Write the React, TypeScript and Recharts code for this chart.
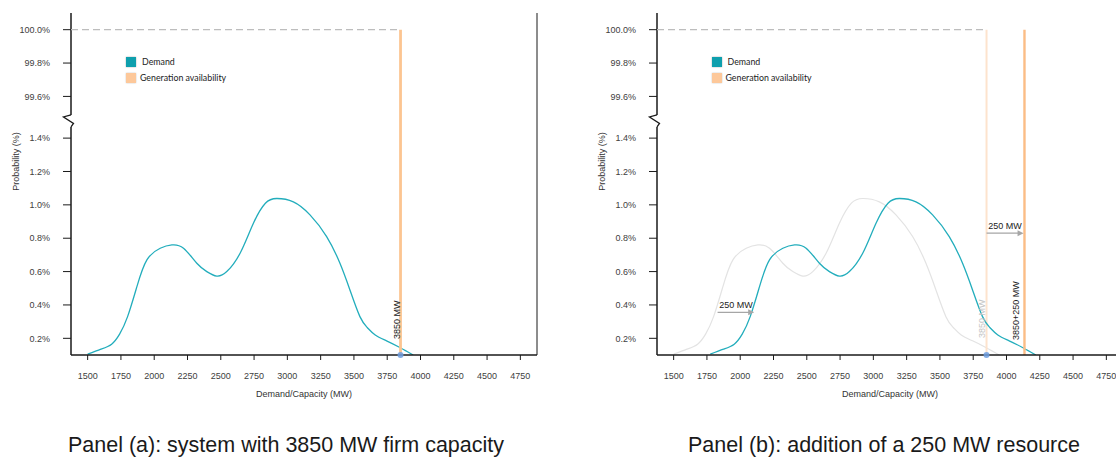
import React from 'react';
import { LineChart, Line, XAxis, YAxis, ReferenceLine, ReferenceDot, Legend } from 'recharts';

// ---------- data ----------
const xTicks = [1500, 1750, 2000, 2250, 2500, 2750, 3000, 3250, 3500, 3750, 4000, 4250, 4500, 4750];
const yTickPercents = [0.2, 0.4, 0.6, 0.8, 1.0, 1.2, 1.4, 99.6, 99.8, 100.0];
const yTickLabels = ['0.2%', '0.4%', '0.6%', '0.8%', '1.0%', '1.2%', '1.4%', '99.6%', '99.8%', '100.0%'];

// Panel (a) demand distribution
const demandMW = [1500, 1600, 1680, 1740, 1800, 1870, 1945, 2045, 2133, 2220, 2320, 2395, 2470, 2545, 2645, 2745, 2835, 2920, 3045, 3170, 3295, 3395, 3470, 3545, 3600, 3660, 3745, 3845, 3945];
const demandProb = [0.105, 0.135, 0.165, 0.225, 0.33, 0.51, 0.67, 0.74, 0.76, 0.74, 0.65, 0.6, 0.573, 0.6, 0.71, 0.89, 1.01, 1.038, 1.018, 0.94, 0.81, 0.65, 0.49, 0.33, 0.265, 0.22, 0.185, 0.145, 0.1];

// Panel (b) demand distribution after the resource addition
const shiftedMW = [1775, 1875, 1955, 2015, 2075, 2145, 2220, 2320, 2408, 2495, 2595, 2670, 2745, 2820, 2920, 3020, 3110, 3195, 3320, 3445, 3570, 3670, 3745, 3820, 3875, 3935, 4020, 4120, 4220];
const shiftedProb = [0.105, 0.135, 0.165, 0.225, 0.33, 0.51, 0.67, 0.74, 0.76, 0.74, 0.65, 0.6, 0.573, 0.6, 0.71, 0.89, 1.01, 1.038, 1.018, 0.94, 0.81, 0.65, 0.49, 0.33, 0.265, 0.22, 0.185, 0.145, 0.1];

const firmCapacityMW = 3850;
const expandedCapacityMW = 4135;
const fullAvailability = 100.0;
const upperArrow = { from: 3850, to: 4128, prob: 0.83 };
const lowerArrow = { from: 1830, to: 2105, prob: 0.356 };
const resourceLabel = '250 MW';
const captions = ['Panel (a): system with 3850 MW firm capacity', 'Panel (b): addition of a 250 MW resource'];

// ---------- scales ----------
const xDomain = [1375, 4875];
const yDomain = [0.1, 2.15];
const toAxis = (p: number) => (p > 50 ? p - 97.95 : p);
const yTicksAxis = yTickPercents.map(toAxis);
const breakHigh = 1.539;
const breakLow = 1.467;
const breakMid = 1.503;

const FONT = "'Liberation Sans', Arial, sans-serif";
const TEAL = '#22adbc';
const PEACH = '#fcc591';
const PEACH_STRONG = '#fbbd86';
const PEACH_PALE = '#fde3cd';

const pts = (xs: number[], ys: number[]) => xs.map((x, i) => ({ x, y: ys[i] }));

const genLine = (mw: number) => [
  { x: mw, y: yDomain[0] },
  { x: mw, y: toAxis(fullAvailability) },
];

const LegendContent = () => (
  <div style={{ fontFamily: "Lato, 'Open Sans', sans-serif", fontSize: 8.8, color: '#222', lineHeight: '16px' }}>
    <div style={{ display: 'flex', alignItems: 'center', height: 16 }}>
      <span style={{ display: 'inline-block', width: 10, height: 10, background: '#0e9fad', boxShadow: '0 0 1.5px rgba(0,0,0,0.35)', marginRight: 6 }} />
      Demand
    </div>
    <div style={{ display: 'flex', alignItems: 'center', height: 16 }}>
      <span style={{ display: 'inline-block', width: 10, height: 10, background: '#fdc89a', boxShadow: '0 0 1.5px rgba(0,0,0,0.25)', marginRight: 4 }} />
      Generation availability
    </div>
  </div>
);

const arrowShape = (label: string) => (p: any) => {
  const { x1, y1, x2 } = p;
  const mid = (x1 + x2) / 2;
  return (
    <g>
      <line x1={x1} y1={y1} x2={x2 - 5} y2={y1} stroke="#a6a6a6" strokeWidth={1.2} />
      <polygon points={`${x2},${y1} ${x2 - 6},${y1 - 3} ${x2 - 6},${y1 + 3}`} fill="#a6a6a6" />
      <text x={mid} y={y1 - 4.5} textAnchor="middle" fontSize={9} fontFamily={FONT} fill="#222">
        {label}
      </text>
    </g>
  );
};

const vLabel = (text: string, dx: number, dy: number, color: string) => (p: any) => {
  const x = p.cx + dx;
  const y = p.cy + dy;
  return (
    <text x={x} y={y} transform={`rotate(-90 ${x} ${y})`} fontSize={9} fontFamily={FONT} fill={color} textAnchor="start">
      {text}
    </text>
  );
};

const zigzag = (p: any) => {
  const { cx, cy } = p;
  return (
    <polyline
      points={`${cx},${cy - 6} ${cx - 7.5},${cy - 4} ${cx + 2.5},${cy + 2.5} ${cx},${cy + 6}`}
      fill="none"
      stroke="#1a1a1a"
      strokeWidth={1.3}
    />
  );
};

const Panel = ({ variant }: { variant: 'a' | 'b' }) => {
  const isB = variant === 'b';
  return (
    <LineChart width={586} height={400} margin={{ top: 13, right: 49, bottom: 0, left: 0 }}>
      <XAxis
        type="number"
        dataKey="x"
        domain={xDomain}
        ticks={xTicks}
        interval={0}
        allowDataOverflow
        height={45}
        tickSize={5}
        tickMargin={13}
        tick={{ fontSize: 9, fill: '#404040', fontFamily: FONT }}
        axisLine={{ stroke: '#1a1a1a', strokeWidth: 1.5 }}
        tickLine={{ stroke: '#1a1a1a' }}
        label={{ value: 'Demand/Capacity (MW)', position: 'insideBottom', offset: 3, fontSize: 9, fill: '#333', fontFamily: FONT }}
      />
      <YAxis
        type="number"
        domain={yDomain}
        ticks={yTicksAxis}
        interval={0}
        allowDataOverflow
        width={71}
        tickSize={8}
        tickMargin={13}
        axisLine={false}
        tick={{ fontSize: 9, fill: '#404040', fontFamily: FONT }}
        tickLine={{ stroke: '#1a1a1a' }}
        tickFormatter={(v: number) => {
          const i = yTicksAxis.findIndex((t) => Math.abs(t - v) < 1e-6);
          return i >= 0 ? yTickLabels[i] : '';
        }}
        label={{
          content: () => (
            <text x={18.5} y={161.5} transform="rotate(-90 18.5 161.5)" textAnchor="middle" fontSize={9} fill="#333" fontFamily={FONT}>
              Probability (%)
            </text>
          ),
        }}
      />
      <Legend layout="vertical" align="center" verticalAlign="middle" wrapperStyle={{ left: 126, top: 54, width: 'auto' }} content={LegendContent} />

      {/* y axis with break */}
      <ReferenceLine segment={[{ x: xDomain[0], y: yDomain[0] }, { x: xDomain[0], y: breakLow }]} stroke="#1a1a1a" strokeWidth={1.5} ifOverflow="visible" />
      <ReferenceLine segment={[{ x: xDomain[0], y: breakHigh }, { x: xDomain[0], y: yDomain[1] }]} stroke="#1a1a1a" strokeWidth={1.5} ifOverflow="visible" />
      <ReferenceDot x={xDomain[0]} y={breakMid} ifOverflow="visible" shape={zigzag} />
      {/* right frame */}
      <ReferenceLine x={xDomain[1]} stroke="#1a1a1a" strokeWidth={1} ifOverflow="visible" />

      {/* 100% dashed line */}
      <ReferenceLine
        segment={[{ x: xDomain[0], y: toAxis(fullAvailability) }, { x: firmCapacityMW, y: toAxis(fullAvailability) }]}
        stroke="#bdbdbd"
        strokeWidth={1.2}
        strokeDasharray="7 4"
        ifOverflow="visible"
      />

      {isB && (
        <Line data={pts(demandMW, demandProb)} dataKey="y" type="natural" stroke="#e3e3e3" strokeWidth={1.2} dot={false} isAnimationActive={false} legendType="none" />
      )}
      {isB && (
        <Line data={genLine(firmCapacityMW)} dataKey="y" type="linear" stroke={PEACH_PALE} strokeWidth={2} dot={false} isAnimationActive={false} legendType="none" />
      )}
      <Line
        data={isB ? pts(shiftedMW, shiftedProb) : pts(demandMW, demandProb)}
        dataKey="y"
        name="Demand"
        type="natural"
        stroke={TEAL}
        strokeWidth={1.3}
        dot={false}
        isAnimationActive={false}
      />
      <Line
        data={genLine(isB ? expandedCapacityMW : firmCapacityMW)}
        dataKey="y"
        name="Generation availability"
        type="linear"
        stroke={isB ? PEACH_STRONG : PEACH}
        strokeWidth={isB ? 2.4 : 2.8}
        dot={false}
        isAnimationActive={false}
      />

      <ReferenceDot x={firmCapacityMW} y={yDomain[0]} r={3} fill="#6f9fe0" fillOpacity={0.85} stroke="none" ifOverflow="visible" />

      {!isB && <ReferenceDot x={firmCapacityMW} y={yDomain[0]} ifOverflow="visible" shape={vLabel('3850 MW', -1, -16, '#222')} />}
      {isB && <ReferenceDot x={firmCapacityMW} y={yDomain[0]} ifOverflow="visible" shape={vLabel('3850 MW', -2, -17, '#c4c4c4')} />}
      {isB && <ReferenceDot x={expandedCapacityMW} y={yDomain[0]} ifOverflow="visible" shape={vLabel('3850+250 MW', -5, -15, '#222')} />}
      {isB && (
        <ReferenceLine
          segment={[{ x: upperArrow.from, y: upperArrow.prob }, { x: upperArrow.to, y: upperArrow.prob }]}
          ifOverflow="visible"
          shape={arrowShape(resourceLabel)}
        />
      )}
      {isB && (
        <ReferenceLine
          segment={[{ x: lowerArrow.from, y: lowerArrow.prob }, { x: lowerArrow.to, y: lowerArrow.prob }]}
          ifOverflow="visible"
          shape={arrowShape(resourceLabel)}
        />
      )}
    </LineChart>
  );
};

const captionCenters = [286, 884];

export default function App() {
  return (
    <div style={{ position: 'absolute', left: 0, top: 0, width: 1116, height: 458, overflow: 'hidden', background: '#fff' }}>
      <div style={{ position: 'absolute', left: 0, top: 0 }}>
        <Panel variant="a" />
      </div>
      <div style={{ position: 'absolute', left: 585.5, top: 0 }}>
        <Panel variant="b" />
      </div>
      {captions.map((c, i) => (
        <div
          key={c}
          style={{
            position: 'absolute',
            left: captionCenters[i] - 300,
            width: 600,
            top: 435,
            textAlign: 'center',
            fontFamily: FONT,
            fontSize: 21.5,
            lineHeight: '21px',
            color: '#1a1a1a',
            whiteSpace: 'nowrap',
          }}
        >
          {c}
        </div>
      ))}
    </div>
  );
}
